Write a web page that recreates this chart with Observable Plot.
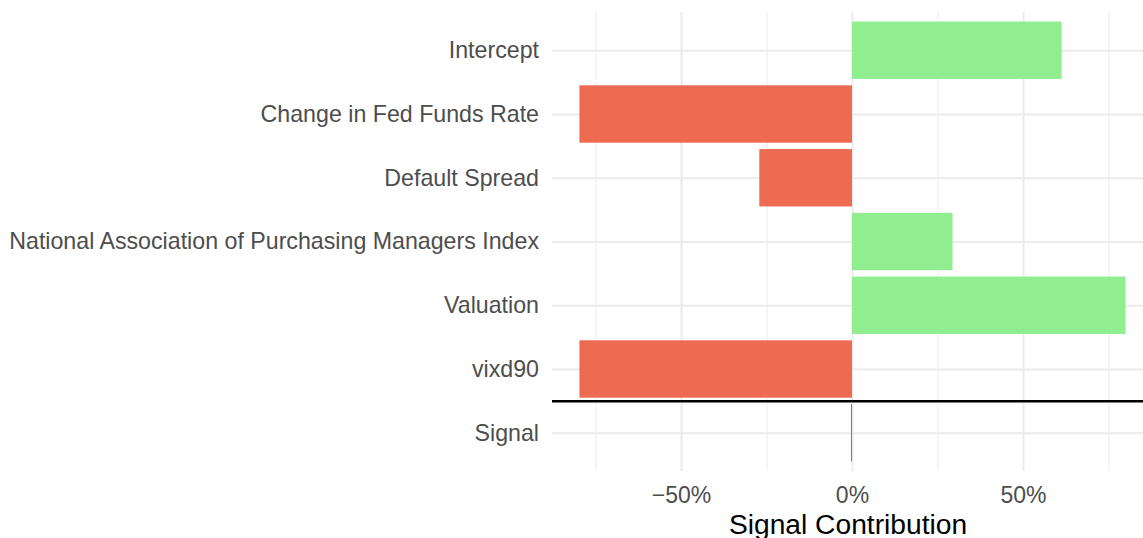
<!DOCTYPE html>
<html><head><meta charset="utf-8">
<script src="https://cdn.jsdelivr.net/npm/d3@7"></script>
<script src="https://cdn.jsdelivr.net/npm/@observablehq/plot@0.6"></script>
<style>body{margin:0;background:#fff;}</style>
</head><body><div id="chart"></div>
<script>
const categories = ["Intercept","Change in Fed Funds Rate","Default Spread","National Association of Purchasing Managers Index","Valuation","vixd90","Signal"];
const contributions = [0.613,-0.797,-0.271,0.294,0.800,-0.797,-0.003];
const xTicksMajor = [-0.5,0,0.5];
const xTicksMinor = [-0.75,-0.25,0.25,0.75];
const data = categories.map((c,i)=>({category:c, value:contributions[i], kind: c==="Signal"?"signal":(contributions[i]>=0?"pos":"neg")}));
const font = "'Liberation Sans', Arial, Helvetica, sans-serif";
const fmt = d => (d<0?"\u2212":"") + Math.round(Math.abs(d)*100) + "%";
const chart = Plot.plot({
  width:1143, height:538, marginLeft:552, marginRight:0, marginTop:12, marginBottom:67,
  style:{fontFamily:font, background:"#fff", overflow:"visible"},
  x:{domain:[-0.8772,0.8509], ticks: xTicksMajor, tickFormat: fmt},
  y:{domain:categories, paddingInner:0.1, paddingOuter:0.15, round:false},
  color:{domain:["pos","neg","signal"], range:["#90EE90","#EE6A50","#0EA0E8"]},
  marks:[
    Plot.gridX(xTicksMinor,{stroke:"#EBEBEB", strokeOpacity:1, strokeWidth:1}),
    Plot.gridX(xTicksMajor,{stroke:"#EBEBEB", strokeOpacity:1, strokeWidth:2}),
    Plot.gridY(categories,{stroke:"#EBEBEB", strokeOpacity:1, strokeWidth:2}),
    Plot.barX(data,{x:"value", y:"category", fill:"kind"}),
    Plot.ruleY(["Signal"],{dy:-31.9, stroke:"#000", strokeWidth:2.5}),
    Plot.axisX(xTicksMajor,{tickSize:0, tickPadding:15, fontSize:23, fill:"#4D4D4D", tickFormat:fmt, label:null}),
    Plot.axisY({tickSize:0, tickPadding:13.5, fontSize:23.2, fill:"#4D4D4D", label:null}),
    Plot.text(["Signal Contribution"],{frameAnchor:"bottom", dy:62, fontSize:28.2, fill:"#000"})
  ]
});
document.getElementById("chart").appendChild(chart);
</script>
</body></html>
